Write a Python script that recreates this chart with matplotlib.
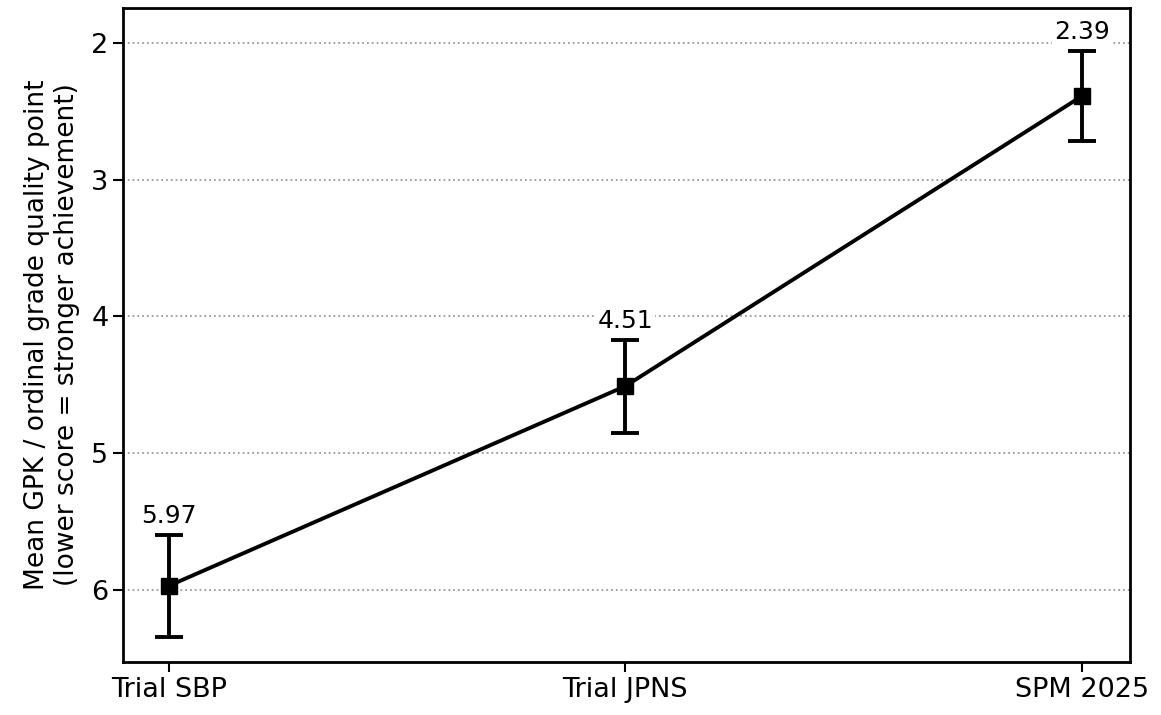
import numpy as np
import matplotlib.pyplot as plt

# data
categories = ['Trial SBP', 'Trial JPNS', 'SPM 2025']
means = [5.97, 4.51, 2.39]
errors = [0.37, 0.34, 0.33]

fig = plt.figure(figsize=(11.61, 7.15), dpi=100)
ax = fig.add_axes([0.106, 0.074, 0.867, 0.915])

x = np.arange(len(categories))
ax.errorbar(x, means, yerr=errors, color='black', marker='s', markersize=11,
            linewidth=2.8, elinewidth=2.8, capsize=10, capthick=2.8, zorder=3)

for xi, m, e in zip(x, means, errors):
    ax.text(xi, m - e - 0.05, f'{m:.2f}', ha='center', va='bottom', fontsize=18,
            bbox=dict(facecolor='white', edgecolor='none', pad=1), zorder=4)

ax.set_xticks(x)
ax.set_xticklabels(categories, fontsize=19.5)
ax.set_yticks([2, 3, 4, 5, 6])
ax.tick_params(axis='y', labelsize=19.5, length=7, width=1.5)
ax.tick_params(axis='x', length=7, width=1.5)
ax.set_xlim(-0.1, 2.105)
ax.set_ylim(6.527, 1.744)
ax.grid(axis='y', linestyle=':', color='gray', linewidth=1.3, alpha=0.8)
ax.set_axisbelow(True)
for s in ax.spines.values():
    s.set_linewidth(2)

ax.set_ylabel('Mean GPK / ordinal grade quality point\n(lower score = stronger achievement)',
              fontsize=19, labelpad=8)

fig.savefig('out.png', dpi=100)
